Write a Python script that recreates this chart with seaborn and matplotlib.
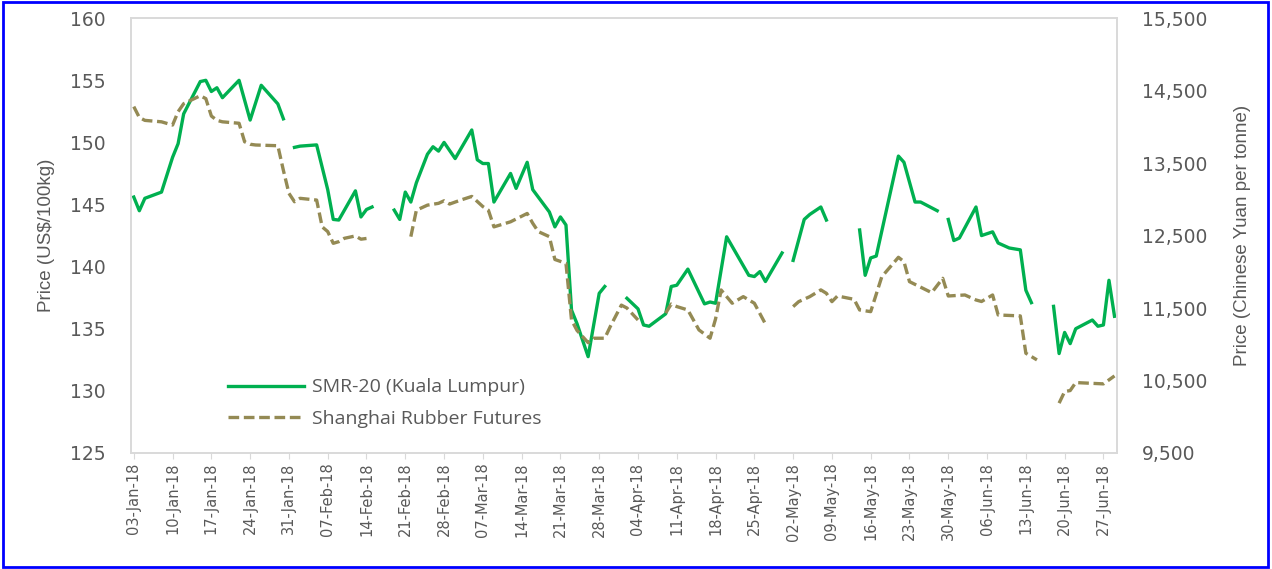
import numpy as np
import pandas as pd
import seaborn as sns
import matplotlib.pyplot as plt
import matplotlib.dates as mdates
from matplotlib.lines import Line2D
from matplotlib.patches import Rectangle
from matplotlib.ticker import FuncFormatter

nan = np.nan

# ---------------------------- dados ----------------------------#
# SMR-20 (Kuala Lumpur), US$/100kg -- NaN = dia sem cotacao (quebra na linha)
smr_dates = ["01-03", "01-04", "01-05", "01-08", "01-10", "01-11", "01-12", "01-15", "01-16",
             "01-17", "01-18", "01-19", "01-22", "01-24", "01-26", "01-29", "01-30", "01-31",
             "02-01", "02-02", "02-05", "02-07", "02-08", "02-09", "02-12", "02-13", "02-14",
             "02-15", "02-16", "02-19", "02-20", "02-21", "02-22", "02-23", "02-25", "02-26",
             "02-27", "02-28", "03-02", "03-05", "03-06", "03-07", "03-08", "03-09", "03-12",
             "03-13", "03-15", "03-16", "03-19", "03-20", "03-21", "03-22", "03-23", "03-24",
             "03-26", "03-28", "03-29", "03-30", "04-02", "04-04", "04-05", "04-06", "04-09",
             "04-10", "04-11", "04-13", "04-16", "04-17", "04-18", "04-20", "04-24", "04-25",
             "04-26", "04-27", "04-30", "05-01", "05-02", "05-04", "05-05", "05-07", "05-08",
             "05-09", "05-14", "05-15", "05-16", "05-17", "05-21", "05-22", "05-24", "05-25",
             "05-28", "05-29", "05-30", "05-31", "06-01", "06-04", "06-05", "06-07", "06-08",
             "06-10", "06-12", "06-13", "06-14", "06-15", "06-18", "06-19", "06-20", "06-21",
             "06-22", "06-25", "06-26", "06-27", "06-28", "06-29"]
smr_values = [145.6, 144.5, 145.5, 146.0, 148.8, 149.9, 152.3, 154.9, 155.0,
              154.1, 154.4, 153.6, 155.0, 151.8, 154.6, 153.1, 151.9, nan,
              149.6, 149.7, 149.8, 146.2, 143.8, 143.75, 146.1, 144.0, 144.6,
              144.8, nan, 144.55, 143.8, 146.0, 145.2, 146.75, 149.05, 149.65,
              149.3, 150.0, 148.7, 151.0, 148.6, 148.3, 148.3, 145.2, 147.5,
              146.3, 148.4, 146.2, 144.4, 143.2, 144.0, 143.35, 136.5, 135.4,
              132.75, 137.85, 138.4, nan, 137.45, 136.6, 135.3, 135.2, 136.2,
              138.4, 138.5, 139.8, 137.0, 137.15, 137.05, 142.4, 139.3, 139.2,
              139.6, 138.8, 141.1, nan, 140.5, 143.8, 144.2, 144.8, 143.75,
              nan, 142.95, 139.3, 140.7, 140.85, 148.9, 148.4, 145.2, 145.2,
              144.5, nan, 143.8, 142.1, 142.3, 144.8, 142.5, 142.8, 141.9,
              141.5, 141.35, 138.1, 137.1, nan, 136.8, 133.0, 134.7, 133.8,
              135.0, 135.7, 135.2, 135.3, 138.9, 136.0]

# Shanghai Rubber Futures, Yuan/tonne
shfe_dates = ["01-03", "01-04", "01-05", "01-08", "01-10", "01-11", "01-12", "01-15", "01-16",
              "01-17", "01-18", "01-19", "01-22", "01-23", "01-24", "01-25", "01-29", "01-30",
              "01-31", "02-01", "02-02", "02-05", "02-06", "02-07", "02-08", "02-09", "02-10",
              "02-12", "02-13", "02-14", "02-15", "02-22", "02-23", "02-25", "02-27", "02-28",
              "03-01", "03-03", "03-05", "03-07", "03-08", "03-09", "03-12", "03-15", "03-16",
              "03-17", "03-19", "03-20", "03-22", "03-23", "03-24", "03-26", "03-27", "03-29",
              "03-30", "04-01", "04-02", "04-04", "04-05", "04-09", "04-10", "04-11", "04-13",
              "04-15", "04-17", "04-18", "04-19", "04-21", "04-23", "04-25", "04-27", "04-29",
              "05-02", "05-03", "05-05", "05-07", "05-08", "05-09", "05-10", "05-13", "05-14",
              "05-16", "05-18", "05-21", "05-22", "05-23", "05-27", "05-29", "05-30", "06-02",
              "06-04", "06-05", "06-07", "06-08", "06-12", "06-13", "06-15", "06-17", "06-19",
              "06-20", "06-21", "06-22", "06-27", "06-28", "06-29"]
shfe_values = [14280, 14130, 14090, 14070, 14025, 14210, 14320, 14430, 14390,
               14150, 14090, 14070, 14050, 13795, 13760, 13750, 13740, 13400,
               13083, 12967, 13014, 12990, 12620, 12555, 12393, 12416, 12462,
               12495, 12450, 12460, nan, 12485, 12850, 12920, 12945, 12980,
               12935, 12990, 13040, 12900, 12850, 12620, 12690, 12805, 12670,
               12555, 12485, 12170, 12117, 11335, 11190, 11022, 11083, 11083,
               11245, 11540, 11500, 11335, nan, 11430, 11555, 11520, 11473,
               11198, 11083, 11350, 11749, 11566, 11657, 11566, 11280, nan,
               11519, 11588, 11657, 11750, 11703, 11588, 11666, 11620, 11473,
               11450, 11932, 12200, 12140, 11864, 11712, 11910, 11666, 11680,
               11611, 11590, 11680, 11404, 11391, 10876, 10784, nan, 10187,
               10347, 10361, 10471, 10453, 10508, 10563]

smr_label = "SMR-20 (Kuala Lumpur)"
shfe_label = "Shanghai Rubber Futures"
left_ticks = [125, 130, 135, 140, 145, 150, 155, 160]
right_ticks = [9500, 10500, 11500, 12500, 13500, 14500, 15500]


def monta_df(datas, valores):
    # NaN marca uma quebra: cada trecho vira uma "unidade" separada no seaborn
    df = pd.DataFrame({"data": pd.to_datetime(["2018-" + d for d in datas]), "valor": valores})
    df["trecho"] = df["valor"].isna().cumsum()
    return df.dropna()


df_smr = monta_df(smr_dates, smr_values)
df_shfe = monta_df(shfe_dates, shfe_values)

green = "#00B050"
tan = "#948A54"
gray_txt = "#595959"
dash = (3.2, 1.4)

plt.rcParams["font.family"] = ["Liberation Sans", "DejaVu Sans"]

fig = plt.figure(figsize=(12.72, 5.69), dpi=100)
ax = fig.add_axes([0.103, 0.204, 0.775, 0.764])
ax2 = ax.twinx()

# ----------------------------------- linhas -----------------------------------#
sns.lineplot(data=df_smr, x="data", y="valor", units="trecho", estimator=None,
             color=green, linewidth=2.4, ax=ax)
sns.lineplot(data=df_shfe, x="data", y="valor", units="trecho", estimator=None,
             color=tan, linewidth=2.4, ax=ax2)
for ln in ax2.lines:
    ln.set_dashes(dash)
    ln.set_dash_capstyle("butt")

# ----------------------------------- eixos -----------------------------------#
ax.set_xlim(pd.Timestamp("2018-01-02 12:00"), pd.Timestamp("2018-06-29 10:00"))
ax.set_ylim(125, 160)
ax2.set_ylim(9500, 15500)
ax.set_yticks(left_ticks)
ax2.set_yticks(right_ticks)
ax2.yaxis.set_major_formatter(FuncFormatter(lambda v, p: f"{v:,.0f}"))

xt = pd.date_range("2018-01-03", "2018-06-27", freq="7D")
ax.set_xticks(xt)
ax.xaxis.set_major_formatter(mdates.DateFormatter("%d-%b-%y"))

ax.tick_params(axis="x", length=4, color="#d9d9d9", labelsize=10.5, labelcolor=gray_txt,
               pad=3, labelrotation=90)
ax.tick_params(axis="y", length=0, labelsize=13.5, labelcolor=gray_txt, pad=18)
ax2.tick_params(axis="y", length=0, labelsize=13.5, labelcolor=gray_txt, pad=18)
for lbl in ax.get_xticklabels() + ax.get_yticklabels() + ax2.get_yticklabels():
    lbl.set_family("DejaVu Sans")

for a in (ax, ax2):
    for s in a.spines.values():
        s.set_color("#d9d9d9")
        s.set_linewidth(1.2)

ax.set_xlabel("")
ax.set_ylabel("Price (US$/100kg)", fontsize=13.5, color=gray_txt,
              family=["Liberation Sans Narrow", "Liberation Sans"])
ax2.set_ylabel("Price (Chinese Yuan per tonne)", fontsize=13.5, color=gray_txt,
               family=["Liberation Sans Narrow", "Liberation Sans"], rotation=90)
ax.yaxis.set_label_coords(-0.077, 0.5)
ax2.yaxis.set_label_coords(1.119, 0.5)

# ----------------------------------- legenda -----------------------------------#
handles = [Line2D([], [], color=green, linewidth=2.4),
           Line2D([], [], color=tan, linewidth=2.4, dashes=dash)]
leg = ax.legend(handles, [smr_label, shfe_label], loc="lower left",
                bbox_to_anchor=(0.081, 0.017), frameon=False, handlelength=3.9,
                handletextpad=0.4, labelspacing=0.7, prop={"family": "Open Sans", "size": 14})
for t in leg.get_texts():
    t.set_color(gray_txt)

# borda azul em volta da figura
fig.patches.append(Rectangle((0.002, 0.004), 0.995, 0.992, transform=fig.transFigure,
                             fill=False, edgecolor="#0000ff", linewidth=2))

plt.savefig("out.png", dpi=100)
